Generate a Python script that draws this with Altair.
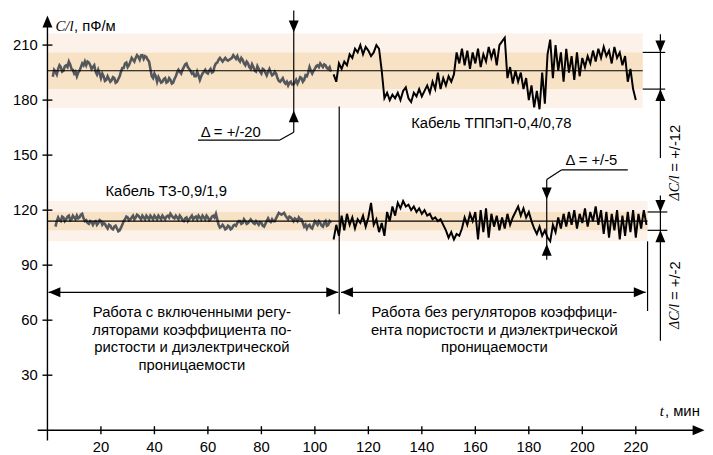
import altair as alt
import pandas as pd

# ---------------- data ----------------
# C/l, pF/m, one reading per minute (+ half-minute readings for the gray traces)
gray_top_t0 = 2   # cable TPPeP, regulators on (t = 2..106)
gray_top = [192.8, 195.5, 197, 198, 196, 199, 201, 197, 194.5, 193,
            196, 200, 201, 201, 199, 198, 195.5, 196.5, 192, 193,
            191, 191.5, 190.8, 192, 190, 193, 197.5, 200, 198, 201,
            202, 203, 203.5, 204.4, 202.5, 203.5, 201, 193, 194.5, 190,
            191, 190, 192, 190, 191, 189.5, 193, 196.5, 194.5, 198,
            200, 197, 194.5, 193, 195.5, 191, 194.5, 196.5, 194.5, 197,
            195.5, 200, 202, 202, 202, 202, 202, 203, 203.5, 204,
            201, 202, 199, 200, 197, 198, 195.5, 197, 194.5, 196.5,
            193.5, 197, 193.5, 195.5, 192, 190, 192, 189, 188, 190,
            188.5, 191, 190.5, 192, 191, 193, 198, 194.5, 197, 199,
            200, 198, 199, 197, 195.5]
# half-minute readings (t = 2.5..105.5)
gray_top_half = [196.5, 194, 199, 195.5, 198.5, 198, 199.5, 196.5, 195.5, 195,
                 198, 199, 199, 200.5, 197, 199, 194, 194.5, 194.5, 190.5,
                 193, 190, 192.5, 189.5, 191.5, 195.5, 197.5, 200.5, 199, 203,
                 201, 204.5, 202, 204.5, 204, 202, 197, 192, 193, 192.5,
                 189.5, 191.5, 189.5, 192, 189, 191.5, 195, 195.5, 196.5, 199.5,
                 198, 196, 195, 193, 193.5, 193, 195.5, 195, 196, 195,
                 198.5, 200.5, 203, 201, 203, 201.5, 202.5, 204.5, 202.5, 202,
                 203, 200, 201, 198, 199.5, 196, 198.5, 195.5, 197, 195,
                 195.5, 195, 194, 194.5, 190.5, 191, 190, 190, 189.5, 188.5,
                 189.5, 189, 192.5, 190, 193.5, 195, 196, 196, 198.5, 198,
                 199, 199.5, 197.5, 198]

gray_bot_t0 = 3   # cable TZ, regulators on (t = 3..106)
gray_bot = [111, 116, 114, 116, 115, 117, 115, 116, 117, 116,
            118, 114, 113, 114, 112, 114, 113, 114, 113, 111,
            112, 110, 111, 110, 109, 112, 115, 116, 115, 117,
            116, 117, 115, 116, 117, 115, 116, 117, 115, 116,
            117, 115, 117, 118, 116, 117, 115, 116, 114, 116,
            115, 117, 116, 115, 116, 117, 115, 116, 115, 117,
            118, 112, 111, 111, 110, 111, 110, 112, 113, 114,
            113, 114, 113, 115, 113, 114, 112, 113, 111, 114,
            114, 115, 114, 117, 118, 118, 117, 115, 116, 114,
            115, 116, 115, 111, 110, 112, 110, 114, 112, 113,
            111, 114, 112, 113]
# half-minute readings (t = 3.5..105.5)
gray_bot_half = [114, 114.5, 116.5, 114, 116.5, 114.5, 117, 115, 115.5, 117.5,
                 115.5, 114.5, 112.5, 113.5, 113.5, 112, 114.5, 112, 112.5, 110,
                 111.5, 109.5, 111.5, 108.5, 110.5, 114, 116.5, 114.5, 116, 115,
                 117.5, 116, 117, 115, 116, 117, 115, 116, 117, 115,
                 116, 116.5, 116, 117, 115.5, 116, 117, 114.5, 115.5, 114,
                 116, 115, 116.5, 117, 115, 116, 117, 114.5, 116.5, 116,
                 115, 110.5, 112, 109.5, 111.5, 109.5, 111.5, 111.5, 114, 112.5,
                 115, 112.5, 114, 114, 112.5, 113, 113.5, 111.5, 112.5, 115.5,
                 113.5, 114, 115.5, 118.5, 117.5, 118.5, 116, 116.5, 115, 115.5,
                 114, 115, 113, 112, 111.5, 110.5, 112, 113, 114, 111.5,
                 113, 111.5, 114]

black_top_t0 = 107  # cable TPPeP, regulators off (t = 107..220)
black_top = [194, 190, 200, 197, 201, 199, 205, 203, 208, 206,
             210, 205, 209, 207, 204, 206, 210, 208, 196, 181,
             184, 180, 183, 181, 184, 180, 185, 187, 181, 179,
             184, 182, 186, 182, 185, 188, 184, 190, 186, 195,
             186, 192, 188, 193, 190, 194, 206, 200, 208, 199,
             207, 197, 206, 200, 208, 198, 205, 201, 209, 203,
             208, 199, 210, 212, 214, 192, 198, 189, 196, 190,
             195, 186, 192, 180, 188, 176, 185, 175, 195, 178,
             205, 213, 192, 210, 196, 206, 190, 208, 195, 204,
             191, 206, 193, 203, 198, 204, 200, 207, 201, 208,
             203, 209, 204, 207, 200, 209, 203, 206, 199, 204,
             190, 197, 186, 180]

black_bot_t0 = 107  # cable TZ, regulators off (t = 107..224)
black_bot = [104, 112, 106, 117, 109, 118, 112, 116, 110, 115,
             113, 117, 111, 116, 124, 112, 115, 108, 113, 106,
             119, 114, 122, 117, 124, 121, 125, 122, 123, 120,
             122, 119, 121, 118, 120, 117, 118, 115, 116, 114,
             115, 112, 109, 105, 108, 104, 107, 106, 110, 116,
             112, 118, 114, 119, 104, 120, 108, 121, 105, 118,
             111, 117, 109, 116, 110, 118, 112, 116, 119, 122,
             117, 121, 116, 119, 114, 110, 107, 111, 106, 109,
             105, 103, 112, 108, 116, 110, 118, 111, 119, 112,
             120, 110, 118, 113, 121, 111, 119, 114, 122, 112,
             120, 107, 119, 105, 118, 109, 120, 104, 117, 106,
             119, 108, 120, 105, 118, 110, 120, 112]

x_ticks = [20, 40, 60, 80, 100, 120, 140, 160, 180, 200, 220]
y_ticks = [30, 60, 90, 120, 150, 180, 210]

# tolerance bands: centre, inner half-width, outer half-width, end time
top_band = {"c": 196, "inner": 10, "outer": 20.5, "end": 222.6}
bot_band = {"c": 114, "inner": 5, "outer": 11, "end": 224.4}

label_top_cable = "Кабель ТППэП-0,4/0,78"
label_bot_cable = "Кабель ТЗ-0,9/1,9"
left_block = ["Работа с включенными регу-", "ляторами коэффициента по-",
              "ристости и диэлектрической", "проницаемости"]
right_block = ["Работа без регуляторов коэффици-", "ента пористости и диэлектрической",
               "проницаемости"]

# ---------------- scales ----------------
X_DOMAIN = [-14.75, 245.88]
Y_DOMAIN = [-12.13, 228.84]
W, H = 705, 447
xs = alt.Scale(domain=X_DOMAIN, nice=False, zero=False)
ys = alt.Scale(domain=Y_DOMAIN, nice=False, zero=False)
SANS = "Liberation Sans"
SERIF = "Liberation Serif"
FS = 15
FI = 14
LIGHT = "#fdf2ea"
DARK = "#f8e2c6"


def X(f="t"):
    return alt.X(f"{f}:Q", scale=xs, axis=None)


def Y(f="v"):
    return alt.Y(f"{f}:Q", scale=ys, axis=None)


# ---------------- tables ----------------
rows = []
for name, t0, vals, half, col, w in [("gt", gray_top_t0, gray_top, gray_top_half, "#54585d", 2.6),
                                     ("gb", gray_bot_t0, gray_bot, gray_bot_half, "#54585d", 2.6),
                                     ("bt", black_top_t0, black_top, [], "#000000", 2.0),
                                     ("bb", black_bot_t0, black_bot, [], "#000000", 2.0)]:
    for i, v in enumerate(vals):
        rows.append({"s": name, "t": t0 + i, "v": v, "col": col, "w": w})
    for i, v in enumerate(half):
        rows.append({"s": name, "t": t0 + i + 0.5, "v": v, "col": col, "w": w})
lines_df = pd.DataFrame(rows).sort_values(["s", "t"])

bands = []
for b in (top_band, bot_band):
    bands.append({"t1": 0, "t2": b["end"], "v1": b["c"] - b["outer"], "v2": b["c"] + b["outer"], "fill": LIGHT})
for b in (top_band, bot_band):
    bands.append({"t1": 0, "t2": b["end"], "v1": b["c"] - b["inner"], "v2": b["c"] + b["inner"], "fill": DARK})
bands_df = pd.DataFrame(bands)

rl = []


def seg(t1, v1, t2, v2, w=1.2):
    rl.append({"t1": t1, "v1": v1, "t2": t2, "v2": v2, "w": w})


# band centre lines
seg(0, top_band["c"], top_band["end"], top_band["c"], 1.2)
seg(0, bot_band["c"], bot_band["end"], bot_band["c"], 1.2)
# axes
seg(0, -5.66, 0, 220, 1.4)
seg(-3.66, 0, 241.5, 0, 1.4)
for t in x_ticks:
    seg(t, -2.2, t, 2.2, 1.4)
for v in y_ticks:
    seg(-1.85, v, 1.85, v, 1.4)
# separators and phase arrows
seg(109.1, 176.5, 109.1, 63.3)
seg(224.4, bot_band["c"] - bot_band["outer"], 224.4, 65.0)
seg(0.4, 75.2, 108.7, 75.2)
seg(109.8, 75.2, 223.7, 75.2)
# delta = +/-20 marker
seg(92.1, 228.8, 92.1, 162.5)
seg(92.1, 162.5, 86.9, 158.2)
seg(86.9, 158.2, 56.3, 158.2)
# delta = +/-5 marker
seg(192.3, 142.0, 217.0, 142.0)
seg(192.3, 142.0, 186.7, 136.7)
seg(186.7, 136.7, 186.7, 93.0)
# right-hand dimension lines
seg(229.2, 215.9, 229.2, 148.5)
seg(top_band["end"], top_band["c"] + top_band["inner"], 231.0, top_band["c"] + top_band["inner"])
seg(top_band["end"], top_band["c"] - top_band["inner"], 231.0, top_band["c"] - top_band["inner"])
seg(229.2, 128.0, 229.2, 48.8)
seg(bot_band["end"], bot_band["c"] + bot_band["inner"], 231.8, bot_band["c"] + bot_band["inner"])
seg(bot_band["end"], bot_band["c"] - bot_band["inner"], 231.8, bot_band["c"] - bot_band["inner"])
rules_df = pd.DataFrame(rl)

UP = "M0,0L-0.42,1L0.42,1Z"
DOWN = "M0,0L-0.42,-1L0.42,-1Z"
LEFT = "M0,0L1,-0.42L1,0.42Z"
RIGHT = "M0,0L-1,-0.42L-1,0.42Z"
heads_df = pd.DataFrame([
    {"t": 0, "v": 226.1, "p": UP},
    {"t": 245.7, "v": 0, "p": RIGHT},
    {"t": 0.4, "v": 75.2, "p": LEFT},
    {"t": 108.7, "v": 75.2, "p": RIGHT},
    {"t": 109.8, "v": 75.2, "p": LEFT},
    {"t": 223.7, "v": 75.2, "p": RIGHT},
    {"t": 92.1, "v": 217.0, "p": DOWN},
    {"t": 92.1, "v": 174.4, "p": UP},
    {"t": 186.7, "v": 125.9, "p": DOWN},
    {"t": 186.7, "v": 101.6, "p": UP},
    {"t": 229.2, "v": top_band["c"] + top_band["inner"], "p": DOWN},
    {"t": 229.2, "v": top_band["c"] - top_band["inner"], "p": UP},
    {"t": 229.2, "v": bot_band["c"] + bot_band["inner"], "p": DOWN},
    {"t": 229.2, "v": bot_band["c"] - bot_band["inner"], "p": UP},
])

xlab_df = pd.DataFrame({"t": x_ticks, "v": [-9.2] * len(x_ticks), "txt": [str(x) for x in x_ticks]})
ylab_df = pd.DataFrame({"t": [-3.66] * len(y_ticks), "v": y_ticks, "txt": [str(y) for y in y_ticks]})

center_txt = [{"t": 166.0, "v": 167.4, "txt": label_top_cable},
              {"t": 44.4, "v": 130.2, "txt": label_bot_cable}]
for i, s in enumerate(left_block):
    center_txt.append({"t": 54.0, "v": [64.4, 54.7, 45.6, 35.8][i], "txt": s})
for i, s in enumerate(right_block):
    center_txt.append({"t": 167.1, "v": [64.4, 54.7, 45.6][i], "txt": s})
center_df = pd.DataFrame(center_txt)

left_df = pd.DataFrame([
    {"t": 57.3, "v": 162.5, "txt": "Δ = +/-20"},
    {"t": 193.7, "v": 147.4, "txt": "Δ = +/-5"},
    {"t": 9.9, "v": 220.2, "txt": ", пФ/м"},
    {"t": 230.9, "v": 10.5, "txt": ", мин"},
])
ital_df = pd.DataFrame([
    {"t": 3.0, "v": 220.2, "txt": "C/l"},
    {"t": 229.0, "v": 10.5, "txt": "t"},
])
rot_sans_df = pd.DataFrame([
    {"t": 234.8, "v": 141.0, "txt": "= +/-12"},
    {"t": 234.8, "v": 71.0, "txt": "= +/-2"},
])
rot_ital_df = pd.DataFrame([
    {"t": 234.8, "v": 125.3, "txt": "ΔC/l"},
    {"t": 234.8, "v": 55.2, "txt": "ΔC/l"},
])

# ---------------- layers ----------------
band_layer = alt.Chart(bands_df).mark_rect().encode(
    x=X("t1"), x2="t2:Q", y=Y("v1"), y2="v2:Q", color=alt.Color("fill:N", scale=None))

line_layer = alt.Chart(lines_df).mark_line(strokeJoin="miter").encode(
    x=X(), y=Y(), detail="s:N", order="t:Q",
    color=alt.Color("col:N", scale=None),
    strokeWidth=alt.StrokeWidth("w:Q", scale=None))

rule_layer = alt.Chart(rules_df).mark_rule(color="black").encode(
    x=X("t1"), x2="t2:Q", y=Y("v1"), y2="v2:Q",
    strokeWidth=alt.StrokeWidth("w:Q", scale=None))

head_layer = alt.Chart(heads_df).mark_point(filled=True, opacity=1, color="black", size=576, strokeWidth=0).encode(
    x=X(), y=Y(), shape=alt.Shape("p:N", scale=None))

xlab = alt.Chart(xlab_df).mark_text(font=SANS, fontSize=FS, align="center", baseline="middle").encode(
    x=X(), y=Y(), text="txt:N")
ylab = alt.Chart(ylab_df).mark_text(font=SANS, fontSize=FS, align="right", baseline="middle").encode(
    x=X(), y=Y(), text="txt:N")
ctext = alt.Chart(center_df).mark_text(font=SANS, fontSize=FS, align="center", baseline="middle").encode(
    x=X(), y=Y(), text="txt:N")
ltext = alt.Chart(left_df).mark_text(font=SANS, fontSize=FS, align="left", baseline="middle").encode(
    x=X(), y=Y(), text="txt:N")
itext = alt.Chart(ital_df).mark_text(font=SERIF, fontStyle="italic", fontSize=FI + 1, align="left", baseline="middle").encode(
    x=X(), y=Y(), text="txt:N")
rtext = alt.Chart(rot_sans_df).mark_text(font=SANS, fontSize=FS, align="left", baseline="middle", angle=270).encode(
    x=X(), y=Y(), text="txt:N")
ritext = alt.Chart(rot_ital_df).mark_text(font=SERIF, fontStyle="italic", fontSize=FI, align="left", baseline="middle", angle=270).encode(
    x=X(), y=Y(), text="txt:N")

chart = alt.layer(
    band_layer, line_layer, rule_layer, head_layer,
    xlab, ylab, ctext, ltext, itext, rtext, ritext
).properties(
    width=W, height=H, padding=0, autosize=alt.AutoSizeParams(type="none"),
    background="white"
).configure_view(stroke=None)

chart.save("out.html", embed_options={"renderer": "svg", "actions": False})
